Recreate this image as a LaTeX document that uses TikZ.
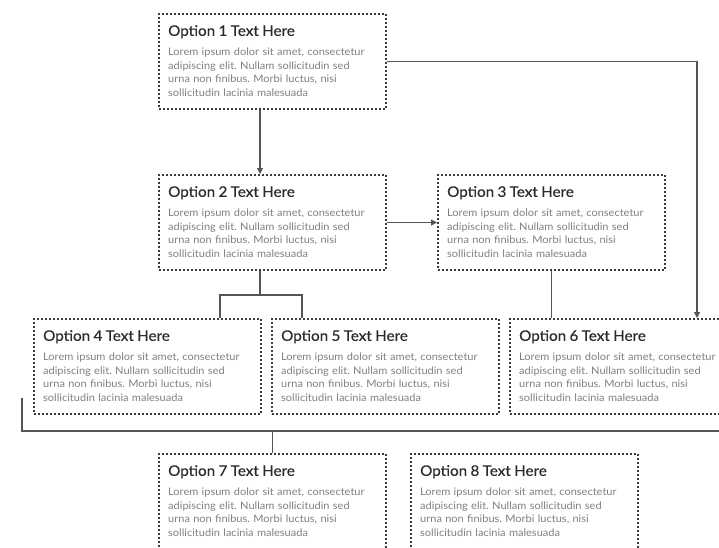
\documentclass[tikz,border=0pt]{standalone}
\usepackage{fontspec}
\setmainfont{Lato}
\newfontfamily\ttlfam[FakeStretch=1.05,FakeBold=0.4]{Lato}
\newfontfamily\bdyfam[FakeStretch=1.06]{Lato}
\usetikzlibrary{arrows.meta,calc}
\definecolor{ttl}{HTML}{2B2B2B}
\definecolor{bdy}{HTML}{808080}
\definecolor{brd}{HTML}{3A3A3A}
\definecolor{cnx}{HTML}{555555}
\tikzset{
  box/.style={draw=brd, line width=2pt, dash pattern=on 2pt off 2pt, rectangle, inner sep=0pt, minimum width=227pt, minimum height=95pt, anchor=north west},
  txt/.style={anchor=north west, inner sep=0pt, text width=215pt, align=left},
  cn/.style={draw=cnx, line width=1.2pt},
  arr/.style={cn, -{Triangle[length=6pt,width=6pt]}},
}
\newcommand\titlefont{\ttlfam\fontsize{14.5}{16}\selectfont\color{ttl}}
\newcommand\bodyfont{\bdyfam\fontsize{10.4}{13.6}\selectfont\color{bdy}}
\newcommand\optbox[4]{%
  \node[box] (#1) at (#2,#3) {};
  \node[txt] (#1t) at ($(#1.north west)+(10,12)$) {\frenchspacing{\titlefont Option #4 Text Here\par}\vspace{6pt}{\bodyfont Lorem ipsum dolor sit amet, consectetur\\ adipiscing elit. Nullam sollicitudin sed\\ urna non finibus. Morbi luctus, nisi\\ sollicitudin lacinia malesuada\par}};
}
\begin{document}
\begin{tikzpicture}[x=1pt,y=-1pt]
\useasboundingbox (0,0) rectangle (719,547);
\clip (0,0) rectangle (719,547);
\fill[white] (0,0) rectangle (719,547);
\optbox{o1}{158}{13}{1}
\optbox{o2}{158}{174}{2}
\optbox{o3}{437}{174}{3}
\optbox{o4}{33}{318}{4}
\optbox{o5}{271}{318}{5}
\optbox{o6}{509}{318}{6}
\optbox{o7}{158}{453}{7}
\optbox{o8}{410}{453}{8}
% connectors
\draw[arr] ($(o1.south west)+(102,0)$) -- ($(o2.north west)+(102,0)$);
\draw[arr] (o1.east) -| ($(o6.north west)+(188,0)$);
\draw[arr] (o2.east) -- (o3.west);
\coordinate (j) at ($(o2.south west)+(102,24)$);
\draw[cn] ($(o2.south west)+(102,0)$) -- (j);
\draw[cn] ($(o4.north west)+(187,0)$) |- (j) -| ($(o5.north west)+(31,0)$);
\draw[cn] (o3.south) -- (o3.south |- o6.north);
\coordinate (bl) at (22,398);
\coordinate (br) at (730,431);
\draw[cn] (bl) |- (br);
\draw[cn] (o7.north) -- (o7.north |- br);
\draw[cn] ($(o8.north west)+(97,0)$) -- ($(o8.north west)+(97,0)$ |- br);
\end{tikzpicture}
\end{document}
